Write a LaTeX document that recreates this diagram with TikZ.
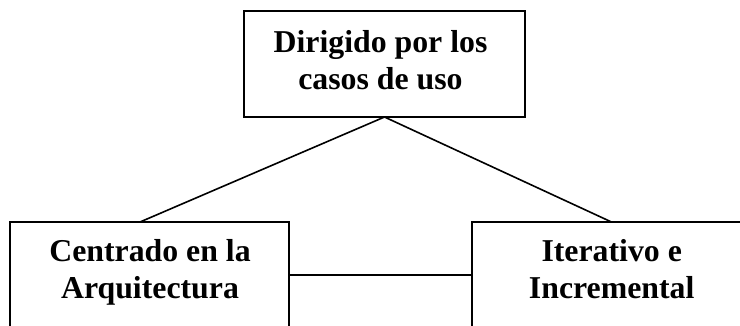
\documentclass[tikz,border=0pt]{standalone}
\usepackage{fontspec}
\setmainfont{Liberation Serif}
\begin{document}
\begin{tikzpicture}[x=1pt,y=-1pt,
  box/.style={draw=black, line width=1.8pt, rectangle, inner sep=0pt, outer sep=0pt, anchor=north west},
  lbl/.style={align=center, inner sep=0pt, outer sep=0pt, anchor=north, font=\fontsize{31.8}{37}\selectfont\bfseries},
  link/.style={draw=black, line width=1.6pt}]
\fill[white] (0,0) rectangle (740,325);
\useasboundingbox (0,0) rectangle (740,325);
\clip (0,0) rectangle (740,325);

\node[box, minimum width=281pt, minimum height=106pt] (T) at (244,11) {};
\node[box, minimum width=279pt, minimum height=106pt] (L) at (10,222) {};
\node[box, minimum width=279pt, minimum height=106pt] (R) at (472,222) {};

\node[lbl] (tT) at (380.5,30) {Dirigido por los\\casos de uso};
\node[lbl] (tL) at (150,239.7) {Centrado en la\\Arquitectura};
\node[lbl] (tR) at (611.7,239.7) {Iterativo e\\Incremental};

\draw[link] (T.south) -- ([xshift=-9.5pt]L.north);
\draw[link] (T.south) -- (R.north);
\draw[link] (L.east) -- (R.west);
\end{tikzpicture}
\end{document}
